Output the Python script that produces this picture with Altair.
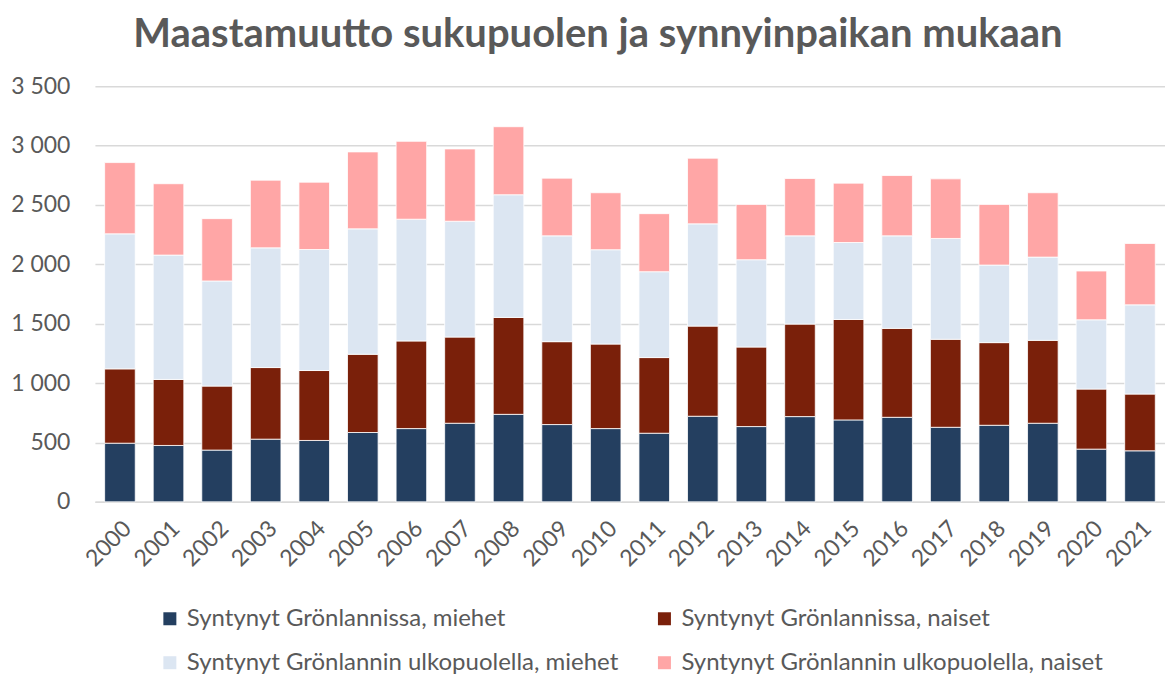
import altair as alt
import pandas as pd

years = [str(y) for y in range(2000, 2022)]
gl_men = [494, 475, 436, 528, 517, 584, 617, 662, 737, 651, 617, 578, 721, 634, 718, 690, 712, 628, 645, 662, 444, 430]
gl_women = [626, 556, 539, 603, 589, 659, 738, 726, 816, 698, 712, 637, 759, 670, 779, 846, 749, 741, 696, 698, 506, 478]
out_men = [1137, 1047, 885, 1008, 1019, 1056, 1025, 975, 1033, 891, 794, 723, 861, 735, 743, 648, 779, 849, 653, 701, 583, 751]
out_women = [600, 601, 525, 570, 567, 648, 656, 609, 573, 486, 480, 489, 553, 466, 483, 500, 508, 502, 511, 542, 411, 517]

series = [
    "Syntynyt Grönlannissa, miehet",
    "Syntynyt Grönlannissa, naiset",
    "Syntynyt Grönlannin ulkopuolella, miehet",
    "Syntynyt Grönlannin ulkopuolella, naiset",
]
colors = ["#243F60", "#7A200A", "#DCE6F2", "#FFA6A6"]

rows = []
for s_i, vals in enumerate([gl_men, gl_women, out_men, out_women]):
    for y, v in zip(years, vals):
        rows.append({"Vuosi": y, "Sarja": series[s_i], "Arvo": v, "jarj": s_i})
df = pd.DataFrame(rows)

grey = "#595959"

chart = alt.Chart(df).mark_bar(stroke="white", strokeWidth=0.8).encode(
    x=alt.X(
        "Vuosi:N",
        sort=years,
        scale=alt.Scale(paddingInner=0.37, paddingOuter=0.2),
        axis=alt.Axis(
            title=None,
            labelAngle=315,
            labelFontSize=23,
            labelColor=grey,
            labelPadding=15,
            ticks=False,
            domain=True,
            domainColor="#D9D9D9",
            domainWidth=1.5,
        ),
    ),
    y=alt.Y(
        "Arvo:Q",
        stack="zero",
        scale=alt.Scale(domain=[0, 3500], nice=False),
        axis=alt.Axis(
            title=None,
            values=[0, 500, 1000, 1500, 2000, 2500, 3000, 3500],
            labelExpr="replace(format(datum.value, ','), ',', ' ')",
            labelFontSize=23,
            labelColor=grey,
            labelPadding=25,
            ticks=False,
            domain=False,
            grid=True,
            gridColor="#D9D9D9",
            gridWidth=1.5,
        ),
    ),
    color=alt.Color(
        "Sarja:N",
        title=None,
        scale=alt.Scale(domain=series, range=colors),
        legend=alt.Legend(
            orient="none",
            direction="horizontal",
            legendX=63,
            legendY=521,
            columns=2,
            columnPadding=34,
            rowPadding=20,
            symbolType="square",
            symbolSize=169,
            symbolStrokeWidth=0,
            symbolOpacity=1,
            labelFontSize=24,
            labelColor=grey,
            labelOffset=5,
            labelLimit=700,
            padding=0,
        ),
    ),
    order=alt.Order("jarj:Q", sort="ascending"),
).properties(
    width=1071,
    height=416,
    title=alt.TitleParams(
        text="Maastamuutto sukupuolen ja synnyinpaikan mukaan",
        font="Lato",
        fontSize=40,
        fontWeight="bold",
        color=grey,
        anchor="middle",
        dx=-32,
        offset=20,
    ),
    autosize=alt.AutoSizeParams(type="none"),
    padding={"left": 87, "top": 78, "right": 0, "bottom": 176},
).configure(font="Lato").configure_view(stroke=None)

chart.save("out.html", embed_options={"renderer": "svg", "actions": False})
